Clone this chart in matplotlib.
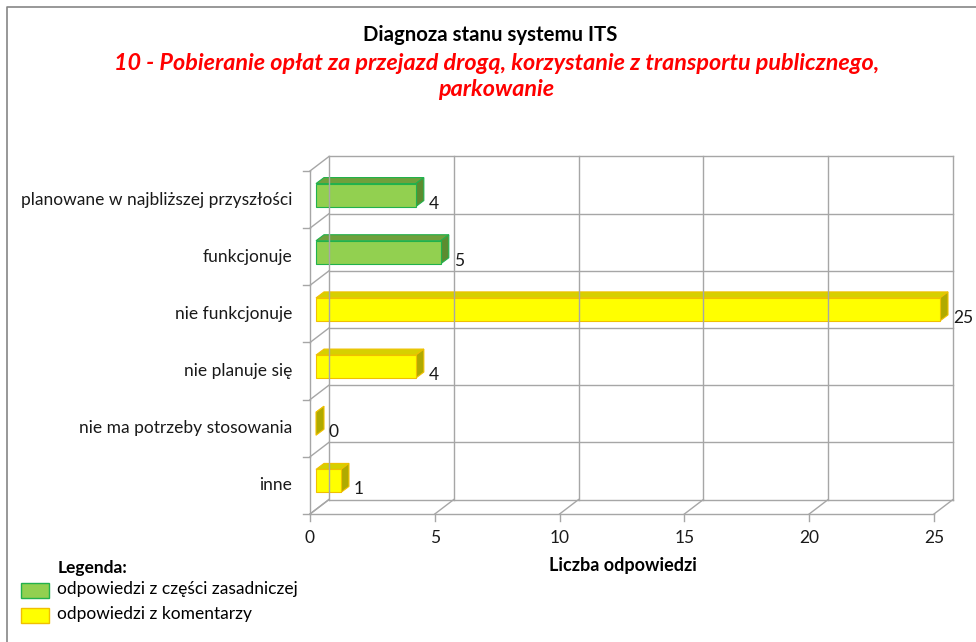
import matplotlib
matplotlib.use('Agg')
import matplotlib.pyplot as plt
from matplotlib.patches import Polygon, Rectangle
from matplotlib.lines import Line2D

# dane wykresu (od dołu do góry)
kategorie = ['inne', 'nie ma potrzeby stosowania', 'nie planuje się',
             'nie funkcjonuje', 'funkcjonuje',
             'planowane w najbliższej przyszłości']
wartosci = [1, 0, 4, 25, 5, 4]
zrodlo = ['kom', 'kom', 'kom', 'kom', 'zas', 'zas']
podzialka = [0, 5, 10, 15, 20, 25]
legenda = ['odpowiedzi z części zasadniczej', 'odpowiedzi z komentarzy']

plt.rcParams['font.family'] = ['Lato', 'DejaVu Sans']

W, H = 976, 642
X0, Y0 = 310, 514          # położenie początku osi (px)
SX, SY = 24.96, 57.17      # px na jednostkę

kolory = {
    'zas': dict(front='#92d050', top='#70a03c', side='#5c8c30', edge='#22b14c'),
    'kom': dict(front='#ffff00', top='#d6d000', side='#b0aa00', edge='#f0c000'),
}
siatka = '#a6a6a6'
fs = 12.5


def dx(p):
    return p / SX


def dy(p):
    return p / SY


fig = plt.figure(figsize=(W / 100, H / 100), dpi=100)
ax = fig.add_axes([0, 0, 1, 1])
ax.set_xlim(-X0 / SX, (W - X0) / SX)
ax.set_ylim((Y0 - H) / SY, Y0 / SY)
ax.axis('off')

n = len(kategorie)
xmax = podzialka[-1]
DX, DY = dx(19), dy(14.5)   # głębokość ścian
lw = 1.0

# siatka - ściana tylna, podłoga, ściana boczna
for t in podzialka:
    ax.plot([t + DX, t + DX], [DY, n + DY], color=siatka, lw=lw)
    ax.plot([t, t + DX], [0, DY], color=siatka, lw=lw)
    ax.plot([t, t], [0, -dy(7)], color=siatka, lw=lw)
for k in range(n + 1):
    ax.plot([DX, xmax + DX], [k + DY, k + DY], color=siatka, lw=lw)
    ax.plot([0, DX], [k, k + DY], color=siatka, lw=lw)
    ax.plot([-dx(7), 0], [k, k], color=siatka, lw=lw)
ax.plot([0, 0], [0, n], color=siatka, lw=lw)
ax.plot([0, xmax], [0, 0], color=siatka, lw=lw)

# słupki 3D
ox, oy = dx(6), dy(4.5)
gx, gy = dx(8), dy(6)
h = dy(11.5)
for i, (v, z) in enumerate(zip(wartosci, zrodlo)):
    c = kolory[z]
    yc = i + 0.5 + oy
    x0, x1 = ox, ox + v
    top = [(x0, yc + h), (x1, yc + h), (x1 + gx, yc + h + gy), (x0 + gx, yc + h + gy)]
    side = [(x1, yc - h), (x1 + gx, yc - h + gy), (x1 + gx, yc + h + gy), (x1, yc + h)]
    ax.add_patch(Polygon(top, closed=True, facecolor=c['top'], edgecolor=c['edge'], lw=0.8))
    ax.add_patch(Polygon(side, closed=True, facecolor=c['side'], edgecolor=c['edge'], lw=0.8))
    if v > 0:
        ax.add_patch(Rectangle((x0, yc - h), v, 2 * h, facecolor=c['front'],
                               edgecolor=c['edge'], lw=0.8))
    ax.text(x1 + dx(13), i + 0.5 - dy(4), str(v), ha='left', va='center',
            fontsize=fs, color='#1a1a1a')
    ax.text(-dx(18), i + 0.5, kategorie[i], ha='right', va='center',
            fontsize=fs, color='#1a1a1a')

for t in podzialka:
    ax.text(t, -dy(24), str(t), ha='center', va='center', fontsize=fs, color='#1a1a1a')

fig.text(623 / W, 1 - 566 / H, 'Liczba odpowiedzi', ha='center', va='center',
         fontsize=13, fontweight='bold')

# tytuły
fig.text(490 / W, 1 - 35 / H, 'Diagnoza stanu systemu ITS', ha='center', va='center',
         fontsize=14.7, fontweight='bold')
fig.text(497 / W, 1 - 64 / H,
         '10 - Pobieranie opłat za przejazd drogą, korzystanie z transportu publicznego,',
         ha='center', va='center', fontsize=16.8, fontweight='bold', style='italic', color='red')
fig.text(496 / W, 1 - 90 / H, 'parkowanie', ha='center', va='center',
         fontsize=16.8, fontweight='bold', style='italic', color='red')

# legenda
fig.text(58 / W, 1 - 568 / H, 'Legenda:', ha='left', va='center', fontsize=fs, fontweight='bold')
for j, (z, etykieta) in enumerate(zip(['zas', 'kom'], legenda)):
    ytop = 583 + j * 25
    fig.add_artist(Rectangle((21 / W, 1 - (ytop + 15) / H), 28 / W, 15 / H,
                             transform=fig.transFigure, facecolor=kolory[z]['front'],
                             edgecolor=kolory[z]['edge'], lw=1))
    fig.text(57 / W, 1 - (ytop + 6) / H, etykieta, ha='left', va='center', fontsize=fs)

# ramka
fig.add_artist(Line2D([7 / W, 7 / W, 1], [0, 1 - 7 / H, 1 - 7 / H],
                      transform=fig.transFigure, color='#868686', lw=1.2))

fig.savefig('out.png', dpi=100)
